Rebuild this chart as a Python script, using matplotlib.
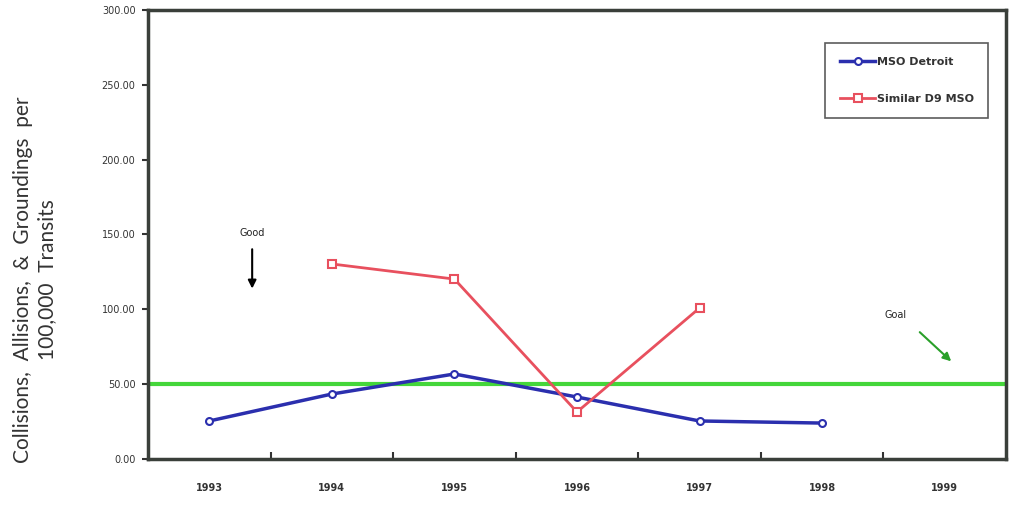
import matplotlib.pyplot as plt
import numpy as np

# data
years = ['1993', '1994', '1995', '1996', '1997', '1998', '1999']
detroit = [25.4, 43.4, 56.8, 41.4, 25.4, 24.0, np.nan]
similar_d9 = [np.nan, 130.3, 120.2, 31.4, 100.9, np.nan, np.nan]
goal_value = 50.0
y_ticks = [0, 50, 100, 150, 200, 250, 300]

fig = plt.figure(figsize=(10.15, 5.17), dpi=100)
ax = fig.add_axes([0.1458, 0.1122, 0.8453, 0.8685])

x = np.arange(len(years)) + 0.5

# goal line
ax.axhline(goal_value, color='#44d63a', lw=3, zorder=1)

ax.plot(x, detroit, color='#2b2fae', lw=2.5, marker='o', ms=5,
        mfc='white', mec='#2b2fae', mew=1.5, label='MSO Detroit', zorder=3)
ax.plot(x, similar_d9, color='#e8505e', lw=2, marker='s', ms=6,
        mfc='white', mec='#e8505e', mew=1.5, label='Similar D9 MSO', zorder=3)

ax.set_xlim(0, len(years))
ax.set_ylim(0, 300)
ax.set_yticks(y_ticks)
ax.set_yticklabels([f'{v:.2f}' for v in y_ticks], fontsize=7, color='#333333')
ax.set_xticks(x)
ax.set_xticklabels(years, fontsize=7, color='#333333', fontweight='bold')
ax.set_xticks(np.arange(1, len(years)), minor=True)
ax.tick_params(axis='x', which='major', length=0, pad=17)
ax.tick_params(axis='x', which='minor', direction='in', length=5, width=1.5,
               color='#333333')
ax.tick_params(axis='y', direction='out', length=4, width=1.5, color='#333333',
               pad=5)

for s in ax.spines.values():
    s.set_color('#3a3f3a')
    s.set_linewidth(2.5)

ax.set_ylabel('Collisions,  Allisions,  &  Groundings  per\n100,000  Transits',
              fontsize=15, color='#333333', family='Lato', linespacing=1.25)
ax.yaxis.set_label_coords(-0.106, 0.40)

# annotations
ax.text(0.85, 151, 'Good', fontsize=7, ha='center', va='center', color='#222222')
ax.annotate('', xy=(0.85, 112), xytext=(0.85, 142),
            arrowprops=dict(arrowstyle='-|>', color='black', lw=1.5,
                            mutation_scale=12))
ax.text(6.1, 96, 'Goal', fontsize=7, ha='center', va='center', color='#222222')
ax.annotate('', xy=(6.57, 64), xytext=(6.28, 86),
            arrowprops=dict(arrowstyle='-|>', color='#2aa02a', lw=1.5,
                            mutation_scale=12))

leg = ax.legend(loc='upper right', bbox_to_anchor=(0.979, 0.927),
                prop={'size': 8, 'weight': 'bold'},
                frameon=True, fancybox=False, edgecolor='#333333',
                handlelength=3.2, labelspacing=2.4, borderpad=1.3,
                handletextpad=0.1, borderaxespad=0)
leg.get_frame().set_linewidth(1.2)
for t in leg.get_texts():
    t.set_color('#333333')

fig.savefig('out.png', dpi=100, facecolor='white')
